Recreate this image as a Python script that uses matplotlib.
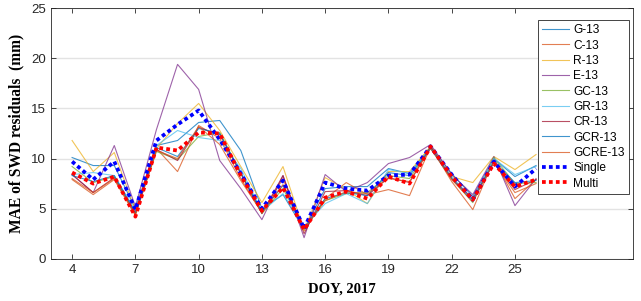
import matplotlib
matplotlib.use("Agg")
import matplotlib.pyplot as plt

doy = list(range(4, 27))
xticks = [4, 7, 10, 13, 16, 19, 22, 25]

G13 = [10.1, 9.3, 9.3, 5.0, 11.3, 11.8, 13.6, 13.8, 10.8, 5.0, 6.4, 2.9, 7.0, 7.2, 7.2, 9.0, 8.5, 11.2, 8.5, 6.2, 10.0, 8.2, 9.3]
C13 = [7.9, 6.4, 7.9, 4.3, 11.0, 8.7, 13.3, 12.0, 8.0, 4.6, 8.0, 2.8, 6.0, 7.6, 6.4, 6.9, 6.3, 11.2, 7.7, 4.9, 9.9, 6.0, 7.9]
R13 = [11.8, 8.7, 10.6, 4.8, 11.0, 13.5, 15.5, 12.8, 9.2, 5.6, 9.2, 2.8, 8.1, 6.9, 5.5, 8.7, 8.7, 11.2, 8.2, 7.6, 10.2, 8.9, 10.4]
E13 = [8.4, 6.6, 11.3, 5.2, 12.9, 19.4, 16.9, 9.8, 7.0, 3.9, 8.3, 2.1, 8.4, 6.7, 7.6, 9.5, 10.1, 11.4, 8.4, 6.4, 10.2, 5.3, 8.0]
GC13 = [9.2, 7.6, 8.2, 4.5, 10.7, 9.9, 12.2, 12.6, 8.5, 4.5, 7.0, 3.0, 5.8, 6.5, 6.6, 8.3, 8.0, 11.1, 8.0, 5.6, 10.1, 7.5, 7.6]
GR13 = [8.4, 8.6, 8.3, 4.8, 11.3, 12.8, 12.1, 11.8, 9.0, 4.7, 6.5, 3.2, 5.5, 6.5, 5.5, 8.9, 8.5, 11.0, 8.2, 5.9, 10.0, 8.4, 9.2]
CR13 = [8.4, 6.6, 8.1, 4.5, 10.9, 9.8, 13.1, 12.4, 8.5, 4.5, 8.3, 2.5, 6.7, 6.8, 6.3, 8.1, 7.6, 11.2, 8.0, 6.0, 9.6, 6.9, 7.9]
GCR13 = [8.3, 7.7, 8.3, 4.6, 11.1, 10.2, 13.0, 12.5, 8.6, 4.7, 7.3, 3.0, 6.0, 6.6, 6.3, 8.6, 8.3, 11.0, 8.0, 5.8, 9.7, 7.6, 7.8]
GCRE13 = [8.0, 6.6, 8.0, 4.4, 10.8, 10.0, 13.2, 11.4, 7.8, 4.6, 7.4, 3.0, 5.8, 6.7, 6.5, 8.0, 7.7, 11.0, 7.9, 5.7, 9.6, 6.6, 7.5]
Single = [9.7, 7.9, 9.7, 4.9, 11.8, 13.4, 14.8, 11.9, 8.5, 5.0, 7.8, 3.0, 7.6, 7.0, 6.8, 8.3, 8.4, 11.2, 8.4, 5.9, 9.7, 7.2, 9.0]
Multi = [8.6, 7.5, 8.2, 4.2, 11.1, 10.8, 12.6, 12.5, 8.3, 4.8, 7.1, 2.9, 6.1, 6.7, 6.0, 8.2, 7.5, 11.2, 8.2, 5.9, 9.5, 7.2, 7.9]

thin = [
    ("G-13", G13, "#0072BD"),
    ("C-13", C13, "#D95319"),
    ("R-13", R13, "#EDB120"),
    ("E-13", E13, "#7E2F8E"),
    ("GC-13", GC13, "#77AC30"),
    ("GR-13", GR13, "#4DBEEE"),
    ("CR-13", CR13, "#A2142F"),
    ("GCR-13", GCR13, "#0072BD"),
    ("GCRE-13", GCRE13, "#D95319"),
]

plt.rcParams['font.family'] = ['Liberation Sans', 'DejaVu Sans']

fig = plt.figure(figsize=(6.41, 3.01), dpi=100)
ax = fig.add_axes([0.0796, 0.1405, 0.908, 0.832])

for name, vals, col in thin:
    ax.plot(doy, vals, color=col, lw=0.8, alpha=0.75, label=name)

ax.plot(doy, Single, color="#0000FF", lw=2.7, linestyle=(0, (1, 0.85)), label="Single")
ax.plot(doy, Multi, color="#FF0000", lw=2.7, linestyle=(0, (1, 0.85)), label="Multi")

ax.set_xlim(3, 30.6)
ax.set_ylim(0, 25)
ax.set_xticks(xticks)
ax.set_yticks([0, 5, 10, 15, 20, 25])
ax.yaxis.grid(True, color="#e3e3e3", lw=1.0)
ax.set_axisbelow(True)
ax.tick_params(direction='in', top=True, right=True, labelsize=9.5, colors='#262626', length=3.5, width=0.6)
for s in ax.spines.values():
    s.set_color('#262626')
    s.set_linewidth(0.6)

ax.set_ylabel("MAE of SWD residuals  (mm)", family='Liberation Serif', fontweight='bold', fontsize=11.2, labelpad=5)
ax.set_xlabel("DOY, 2017", family='Liberation Serif', fontweight='bold', fontsize=10.5, labelpad=5)

leg = ax.legend(loc='upper right', bbox_to_anchor=(0.993, 0.953), borderaxespad=0,
                fontsize=8.6, fancybox=False, edgecolor='#262626', framealpha=1,
                labelspacing=0.28, handlelength=2.2, handletextpad=0.4, borderpad=0.35)
leg.get_frame().set_linewidth(0.6)

fig.savefig("out.png", dpi=100)
